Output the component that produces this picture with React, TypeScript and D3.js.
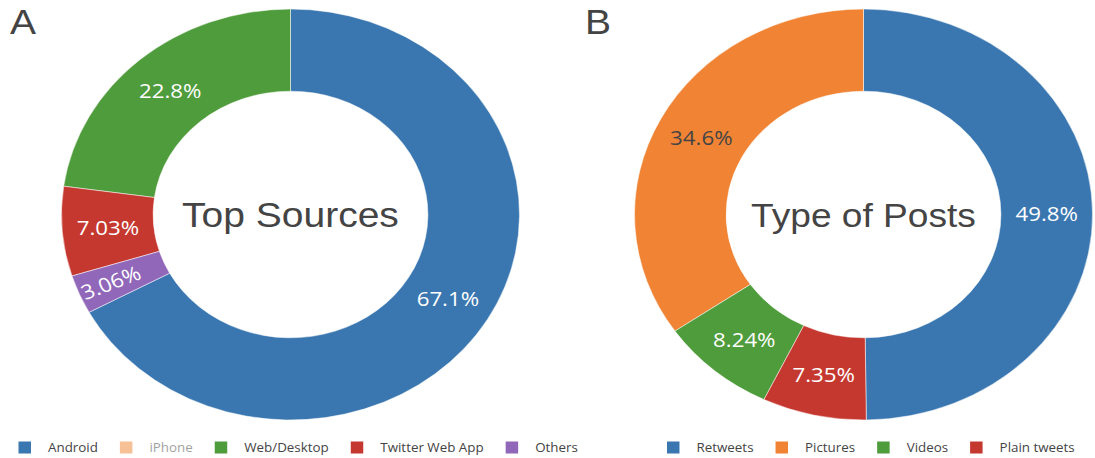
import React from "react";
import * as d3 from "d3";

// ---- Data ----
const sourceLabels = ["Android", "iPhone", "Web/Desktop", "Twitter Web App", "Others"];
const sourceValues: (number | null)[] = [67.1, null, 22.8, 7.03, 3.06]; // iPhone hidden in legend
const sourceColors = ["#3a77b0", "#f08434", "#4f9c3c", "#c5382f", "#9167ba"];

const postLabels = ["Retweets", "Pictures", "Videos", "Plain tweets"];
const postValues: (number | null)[] = [49.8, 34.6, 8.24, 7.35];
const postColors = ["#3a77b0", "#f08434", "#4f9c3c", "#c5382f"];

const panelTitles = ["Top Sources", "Type of Posts"];
const panelLetters = ["A", "B"];

// ---- Layout ----
const W = 1095;
const H = 458;
const SX = 229 / 205.5; // horizontal stretch of the picture
const R = 205.5;
const HOLE = 0.6;
const CY = 214.5;
const CENTERS_X = [290.5, 863.5]; // screen coordinates
const TITLE_SIZES = [35, 33.3];
const LEGEND_START = [18.5, 667];
const LEGEND_Y = 447.5;

const labelFont = "'Open Sans', 'DejaVu Sans', sans-serif";
const titleFont = "'Liberation Sans', Arial, sans-serif";

let canvasCtx: CanvasRenderingContext2D | null = null;
function measure(text: string, font: string): number {
  if (!canvasCtx) {
    const c = document.createElement("canvas");
    canvasCtx = c.getContext("2d");
  }
  if (!canvasCtx) return text.length * 6.5;
  canvasCtx.font = font;
  return canvasCtx.measureText(text).width;
}

type Slice = { label: string; value: number; color: string; idx: number };

function Donut({ labels, values, colors, cxScreen, title, titleSize }: {
  labels: string[]; values: (number | null)[]; colors: string[]; cxScreen: number; title: string; titleSize: number;
}) {
  const slices: Slice[] = labels
    .map((l, i) => ({ label: l, value: values[i] as number, color: colors[i], idx: i }))
    .filter((s) => s.value != null);
  const total = d3.sum(slices, (s) => s.value);
  const first = (slices[0].value / total) * 2 * Math.PI;
  const pie = d3
    .pie<Slice>()
    .sort(null)
    .value((d) => d.value)
    .startAngle(first)
    .endAngle(first - 2 * Math.PI);
  const arcs = pie(slices);
  const arc = d3.arc<d3.PieArcDatum<Slice>>().innerRadius(R * HOLE).outerRadius(R);
  const fmt = d3.format(".3r");
  const cx = cxScreen / SX;
  const rMid = (R * HOLE + R) / 2;

  return (
    <g transform={`translate(${cx},${CY})`}>
      {arcs.map((a, i) => (
        <path key={i} d={arc(a) || ""} fill={a.data.color} stroke="#ffffff" strokeOpacity={0.6} strokeWidth={0.8} />
      ))}
      {arcs.map((a, i) => {
        const frac = a.data.value / total;
        const mid = (a.startAngle + a.endAngle) / 2;
        const small = frac < 0.05;
        const r = small ? 175 : rMid;
        const x = Math.sin(mid) * r;
        const y = -Math.cos(mid) * r;
        let rot = 0;
        if (small) {
          rot = (Math.atan2(y, x) * 180) / Math.PI;
          if (rot > 90) rot -= 180;
          if (rot < -90) rot += 180;
        }
        const fill = a.data.color === "#f08434" ? "#444444" : "#ffffff";
        return (
          <text
            key={"t" + i}
            transform={`translate(${x},${y}) rotate(${rot})`}
            textAnchor="middle"
            dy="0.36em"
            fontFamily={labelFont}
            fontSize={20}
            fill={fill}
          >
            {fmt(frac * 100) + "%"}
          </text>
        );
      })}
      <text x={0} y={227 - CY} textAnchor="middle" fontFamily={titleFont} fontSize={titleSize} fill="#444444">
        {title}
      </text>
    </g>
  );
}

function Legend({ labels, values, colors, startScreen }: {
  labels: string[]; values: (number | null)[]; colors: string[]; startScreen: number;
}) {
  const fontSize = 12;
  const font = `${fontSize}px 'Open Sans'`;
  const textOffset = 26.5;
  const gap = 19.7;
  let x = startScreen / SX;
  const items = labels.map((l, i) => {
    const hidden = values[i] == null;
    const item = { x, label: l, color: colors[i], hidden };
    const tw = measure(l, font);
    x += textOffset + tw + gap;
    return item;
  });
  return (
    <g>
      {items.map((it, i) => (
        <g key={i} opacity={it.hidden ? 0.5 : 1}>
          <rect x={it.x} y={LEGEND_Y - 6} width={11.2} height={12} fill={it.color} />
          <text
            x={it.x + textOffset}
            y={LEGEND_Y}
            dy="0.36em"
            fontFamily={labelFont}
            fontSize={fontSize}
            fill="#444444"
          >
            {it.label}
          </text>
        </g>
      ))}
    </g>
  );
}

export default function App() {
  return (
    <svg
      width={W}
      height={H}
      style={{ position: "absolute", left: 0, top: 0, background: "#ffffff" }}
    >
      <rect width={W} height={H} fill="#ffffff" />
      <g transform={`scale(${SX},1)`}>
        <Donut labels={sourceLabels} values={sourceValues} colors={sourceColors} cxScreen={CENTERS_X[0]} title={panelTitles[0]} titleSize={TITLE_SIZES[0]} />
        <Donut labels={postLabels} values={postValues} colors={postColors} cxScreen={CENTERS_X[1]} title={panelTitles[1]} titleSize={TITLE_SIZES[1]} />
        <Legend labels={sourceLabels} values={sourceValues} colors={sourceColors} startScreen={LEGEND_START[0]} />
        <Legend labels={postLabels} values={postValues} colors={postColors} startScreen={LEGEND_START[1]} />
        <text x={10 / SX} y={34} fontFamily={titleFont} fontSize={35} fill="#444444">{panelLetters[0]}</text>
        <text x={585 / SX} y={34} fontFamily={titleFont} fontSize={35} fill="#444444">{panelLetters[1]}</text>
      </g>
    </svg>
  );
}
